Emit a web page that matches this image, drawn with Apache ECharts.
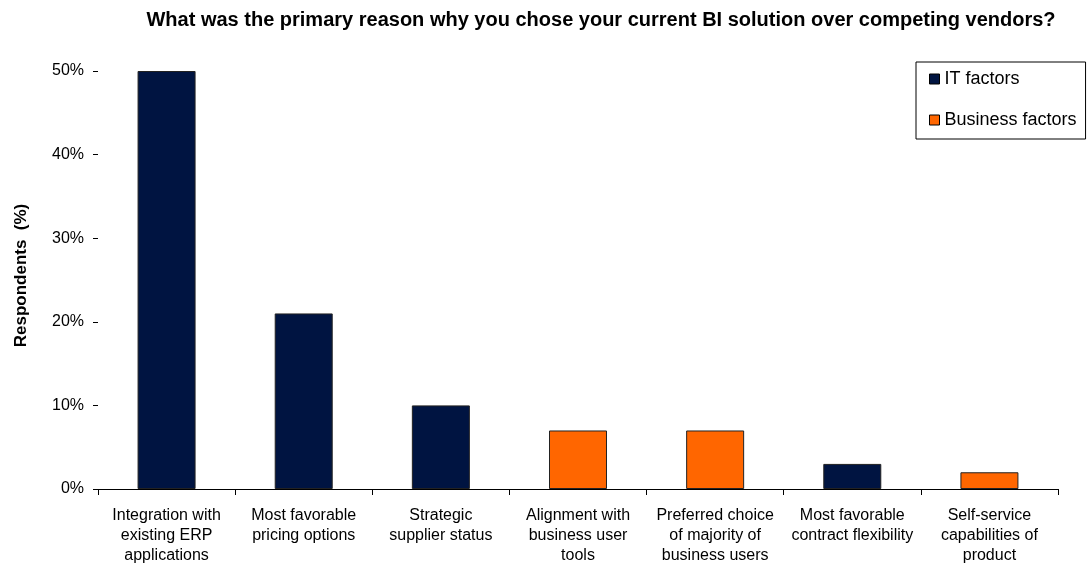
<!DOCTYPE html>
<html>
<head>
<meta charset="utf-8">
<script src="https://cdn.jsdelivr.net/npm/echarts@6/dist/echarts.min.js"></script>
<style>
  html, body { margin: 0; padding: 0; background: #fff; }
  #chart { width: 1089px; height: 569px; }
</style>
</head>
<body>
<div id="chart"></div>
<script>
const categories = [
  'Integration with\nexisting ERP\napplications',
  'Most favorable\npricing options',
  'Strategic\nsupplier status',
  'Alignment with\nbusiness user\ntools',
  'Preferred choice\nof majority of\nbusiness users',
  'Most favorable\ncontract flexibility',
  'Self-service\ncapabilities of\nproduct'
];
const itFactors = [50, 21, 10, null, null, 3, null];
const businessFactors = [null, null, null, 7, 7, null, 2];
const yTicks = [0, 10, 20, 30, 40, 50];

const FONT = 'Liberation Sans, Arial, sans-serif';
const chart = echarts.init(document.getElementById('chart'));

chart.setOption({
  animation: false,
  backgroundColor: '#fff',
  title: {
    text: 'What was the primary reason why you chose your current BI solution over competing vendors?',
    left: 596,
    textAlign: 'center',
    top: 5,
    textStyle: { fontFamily: FONT, fontSize: 20, fontWeight: 'bold', color: '#000' }
  },
  legend: {
    orient: 'vertical',
    left: 916,
    top: 62,
    borderColor: '#000',
    borderWidth: 1,
    padding: [8, 9, 10, 13],
    itemGap: 23,
    icon: 'rect',
    itemWidth: 10,
    itemHeight: 10,
    itemStyle: { borderColor: '#000', borderWidth: 1 },
    textStyle: { fontFamily: FONT, fontSize: 18, color: '#000' },
    data: ['IT factors', 'Business factors']
  },
  grid: { left: 98, right: 31, top: 71, bottom: 80 },
  xAxis: {
    type: 'category',
    data: categories,
    axisLine: { lineStyle: { color: '#000', width: 1 } },
    axisTick: { show: true, length: 6, lineStyle: { color: '#000' } },
    axisLabel: {
      interval: 0,
      margin: 17,
      fontFamily: FONT,
      fontSize: 16,
      lineHeight: 20,
      color: '#000'
    }
  },
  yAxis: {
    type: 'value',
    min: yTicks[0],
    max: yTicks[yTicks.length - 1],
    interval: 10,
    name: 'Respondents  (%)',
    nameLocation: 'middle',
    nameGap: 68,
    nameTextStyle: { fontFamily: FONT, fontSize: 17, fontWeight: 'bold', color: '#000', padding: [0, 0, 0, 9] },
    axisLine: { show: false },
    axisTick: { show: true, length: 5, lineStyle: { color: '#000' } },
    splitLine: { show: false },
    axisLabel: {
      formatter: '{value}%',
      margin: 14,
      fontFamily: FONT,
      fontSize: 16,
      color: '#000'
    }
  },
  series: [
    {
      name: 'IT factors',
      type: 'bar',
      stack: 'all',
      barWidth: 58,
      data: itFactors,
      itemStyle: { color: '#001441', borderColor: '#222', borderWidth: 1 }
    },
    {
      name: 'Business factors',
      type: 'bar',
      stack: 'all',
      barWidth: 58,
      data: businessFactors,
      itemStyle: { color: '#FF6600', borderColor: '#222', borderWidth: 1 }
    }
  ]
});
</script>
</body>
</html>
